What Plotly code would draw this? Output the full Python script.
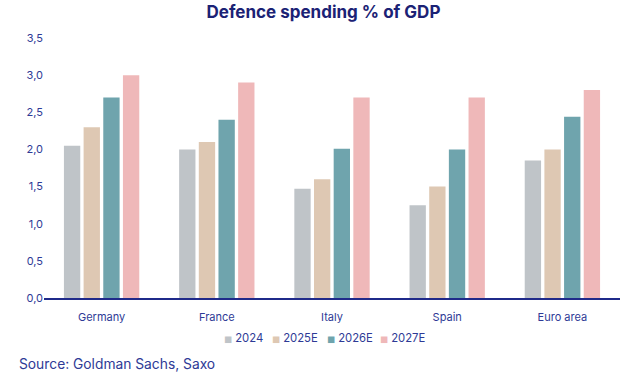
import plotly.graph_objects as go

categories = ["Germany", "France", "Italy", "Spain", "Euro area"]
series_names = ["2024", "2025E", "2026E", "2027E"]
v2024 = [2.05, 2.0, 1.47, 1.25, 1.85]
v2025 = [2.3, 2.1, 1.6, 1.5, 2.0]
v2026 = [2.7, 2.4, 2.01, 2.0, 2.44]
v2027 = [3.0, 2.9, 2.7, 2.7, 2.8]
colors = ["#BFC4C8", "#DEC8B3", "#6FA4AD", "#EFB8B9"]
y_ticks = [0, 0.5, 1.0, 1.5, 2.0, 2.5, 3.0, 3.5]

values = [v2024, v2025, v2026, v2027]
FONT = "Inter"
LABEL = "#2E3A96"
PL, PW, PB, PH = 44, 576, 298, 260  # plot left, width, bottom, height (px)

legend_ids = ["legend", "legend2", "legend3", "legend4"]
legend_left_px = [184, 232, 287, 340]

fig = go.Figure()
for name, vals, c in zip(series_names, values, colors):
    fig.add_trace(go.Bar(x=categories, y=vals, name=name, marker_color=c,
                         marker_line_width=0, showlegend=False))
for name, c, lid in zip(series_names, colors, legend_ids):
    label = (f"<span style='color:{c};font-size:8.5px;font-family:DejaVu Sans'>■</span>"
             f" {name}")
    fig.add_trace(go.Scatter(x=[None], y=[None], mode="markers", name=label, legend=lid,
                             marker=dict(symbol="square", size=7,
                                         color="rgba(0,0,0,0)")))

legend_common = dict(orientation="h", yanchor="middle", xanchor="left",
                     y=(PB - 338) / PH, itemwidth=30, borderwidth=0,
                     bgcolor="rgba(0,0,0,0)",
                     font=dict(family=FONT, size=11.3, color=LABEL))
legends = {}
for lid, lx in zip(legend_ids, legend_left_px):
    legends[lid] = dict(legend_common, x=(lx - PL) / PW)

fig.update_layout(
    width=634, height=383,
    margin=dict(l=44, r=14, t=38, b=85),
    paper_bgcolor="white", plot_bgcolor="white",
    separators=", ",
    barmode="group", bargap=0.317, bargroupgap=0.17,
    font=dict(family=FONT, color=LABEL, size=11),
    title=dict(text="<b>Defence spending % of GDP</b>", x=323.5 / 634, xanchor="center",
               y=1 - 12.5 / 383, yanchor="middle",
               font=dict(family=FONT, size=17, color="#1B2275")),
    annotations=[dict(text="Source: Goldman Sachs, Saxo", xref="paper", yref="paper",
                      x=(17 - PL) / PW, xanchor="left", y=(PB - 364) / PH, yanchor="middle",
                      showarrow=False,
                      font=dict(family=FONT, size=13.8, color=LABEL))],
    **legends,
)
fig.update_xaxes(showline=True, linecolor="#1F2A8A", linewidth=1.5, ticks="",
                 ticklabelstandoff=8,
                 tickfont=dict(size=11, color=LABEL), showgrid=False)
fig.update_yaxes(range=[0, 3.5], tickvals=y_ticks, tickformat=".1f", showgrid=False,
                 zeroline=False, showline=False, ticks="",
                 tickfont=dict(size=11, color=LABEL))

fig.write_html("out.html", config={"displayModeBar": False},
               post_script="document.body.style.margin='0';")
